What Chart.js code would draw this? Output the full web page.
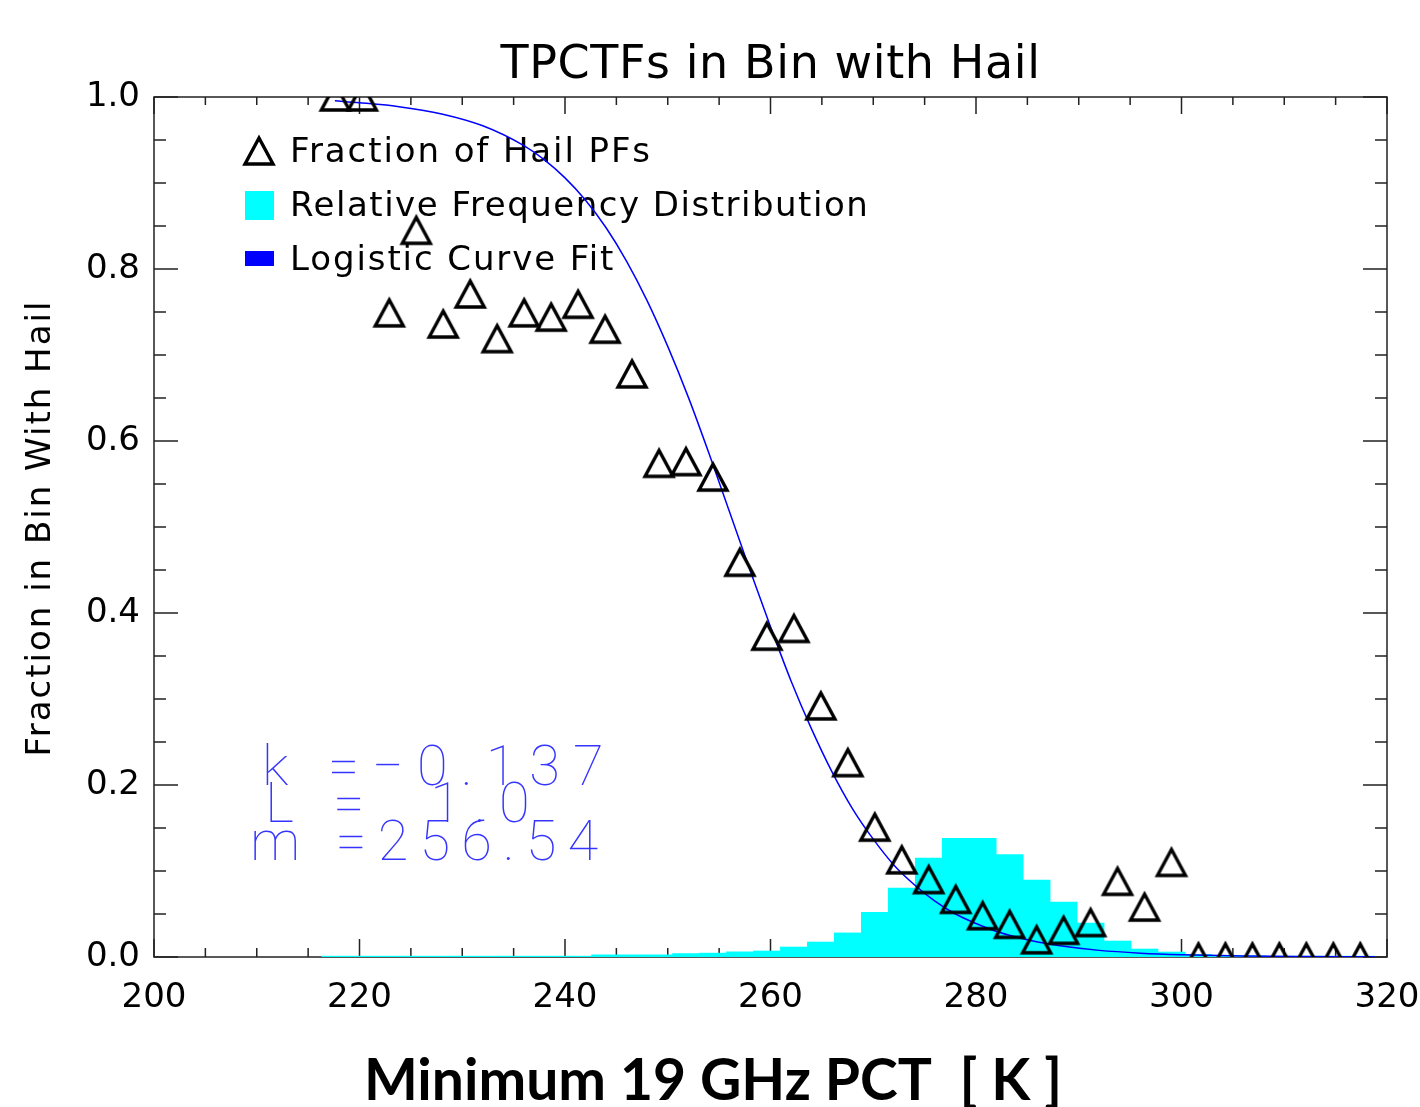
<!DOCTYPE html>
<html lang="en">
<head>
  <meta charset="UTF-8">
  <title>TPCTFs in Bin with Hail</title>
  <script src="https://cdn.jsdelivr.net/npm/chart.js"></script>
  <style>
    body {
      margin: 0;
      background: #fff;
    }
    #wrap {
      width: 1420px;
      height: 1107px;
    }
  </style>
</head>
<body>
  <div id="wrap">
    <canvas id="hailChart" width="1420" height="1107"></canvas>
  </div>
  <script>
    // Bin centres of the 19 GHz PCT bins [K]
    const binCenters = [
      217.65, 220.275, 222.9, 225.525, 228.15, 230.775, 233.4, 236.025, 238.65, 241.275,
      243.9, 246.525, 249.15, 251.775, 254.4, 257.025, 259.65, 262.275, 264.9, 267.525,
      270.15, 272.775, 275.4, 278.025, 280.65, 283.275, 285.9, 288.525, 291.15, 293.775,
      296.4, 299.025, 301.65, 304.275, 306.9, 309.525, 312.15, 314.775, 317.4
    ];
    // Fraction of precipitation features with hail in each bin (triangles)
    const hailFraction = [
      1.0, 1.0, 0.749, 0.845, 0.736, 0.771, 0.719, 0.749, 0.744, 0.759,
      0.730, 0.678, 0.574, 0.576, 0.558, 0.459, 0.373, 0.382, 0.292, 0.226,
      0.151, 0.113, 0.090, 0.067, 0.048, 0.038, 0.020, 0.031, 0.040, 0.088,
      0.058, 0.110, 0, 0, 0, 0, 0, 0, 0
    ];
    // Relative frequency distribution (cyan histogram)
    const relFrequency = [
      0.001, 0.001, 0.001, 0.001, 0.001, 0.001, 0.001, 0.001, 0.001, 0.001,
      0.0025, 0.0025, 0.0025, 0.004, 0.0045, 0.006, 0.007, 0.0116, 0.0174, 0.028,
      0.052, 0.080, 0.115, 0.138, 0.138, 0.119, 0.0895, 0.064, 0.0395, 0.0186,
      0.0093, 0.0058, 0.003, 0.002, 0.0015, 0.001, 0.001, 0.001, 0.001
    ];
    // Logistic curve fit
    const fitTemps = [
      217.6, 220, 224, 228, 232, 236, 238, 240, 242, 244, 246, 248, 250, 252, 254, 256,
      258, 260, 262, 264, 266, 268, 270, 272, 274, 276, 278, 280, 282, 284, 286, 288,
      292, 296, 300, 306, 312, 318.8
    ];
    const fitValues = [
      0.9955, 0.9933, 0.9885, 0.9803, 0.9665, 0.9434, 0.9269, 0.906, 0.880, 0.848, 0.809, 0.763,
      0.710, 0.651, 0.586, 0.518, 0.450, 0.384, 0.321, 0.265, 0.215, 0.172, 0.137, 0.107,
      0.084, 0.065, 0.050, 0.039, 0.0297, 0.023, 0.0174, 0.0133, 0.0077, 0.0045, 0.0026,
      0.0011, 0.0005, 0.0002
    ];
    const fitParams = ['k =\u22120.137', 'L =  1.0', 'm =256.54'];

    const xRange = [200, 320];
    const xMajorStep = 20;
    const xMinorStep = 5;
    const yRange = [0, 1];
    const yMajorStep = 0.2;
    const yMinorStep = 0.05;

    const chartTitle = 'TPCTFs in Bin with Hail';
    const yTitle = 'Fraction in Bin With Hail';
    const xTitle = 'Minimum 19 GHz PCT  [ K ]';

    // open triangle marker, centred on its bounding box (like the IDL symbol)
    function makeTriangle(w, h, lw) {
      const c = document.createElement('canvas');
      c.width = w + 12;
      c.height = h + 12;
      const g = c.getContext('2d');
      const x0 = (c.width - w) / 2;
      const y0 = (c.height - h) / 2;
      g.strokeStyle = '#000';
      g.lineWidth = lw;
      g.lineJoin = 'miter';
      g.beginPath();
      g.moveTo(x0 + w / 2, y0);
      g.lineTo(x0 + w, y0 + h);
      g.lineTo(x0, y0 + h);
      g.closePath();
      g.stroke();
      return c;
    }
    const triangle = makeTriangle(28, 26, 3.4);

    function drawText(ctx, str, x, y, font, color, spacing, align) {
      ctx.font = font;
      ctx.fillStyle = color;
      ctx.letterSpacing = spacing;
      ctx.textAlign = align;
      ctx.textBaseline = 'alphabetic';
      ctx.fillText(str, x, y);
      ctx.letterSpacing = '0px';
    }

    const decorations = {
      id: 'decorations',
      beforeDatasetsDraw(chart) {
        const { ctx, chartArea: a, scales: { x, y } } = chart;
        ctx.save();
        // frame with inward ticks on all four sides
        ctx.strokeStyle = '#222';
        ctx.lineWidth = 1.5;
        ctx.strokeRect(a.left, a.top, a.right - a.left, a.bottom - a.top);
        ctx.beginPath();
        for (let v = xRange[0]; v <= xRange[1]; v += xMinorStep) {
          const px = x.getPixelForValue(v);
          const major = v % xMajorStep === 0;
          ctx.moveTo(px, a.bottom);
          ctx.lineTo(px, a.bottom - (major ? 18 : 9));
          ctx.moveTo(px, a.top);
          ctx.lineTo(px, a.top + (major ? 17 : 8));
        }
        const nY = Math.round((yRange[1] - yRange[0]) / yMinorStep);
        const perMajor = Math.round(yMajorStep / yMinorStep);
        for (let i = 0; i <= nY; i++) {
          const py = y.getPixelForValue(yRange[0] + i * yMinorStep);
          const len = i % perMajor === 0 ? 24 : 12;
          ctx.moveTo(a.left, py);
          ctx.lineTo(a.left + len, py);
          ctx.moveTo(a.right, py);
          ctx.lineTo(a.right - len, py);
        }
        ctx.stroke();

        // legend inside the plot
        const ds = chart.data.datasets;
        const legendFont = '34px "DejaVu Sans"';
        ctx.drawImage(triangle, 259 - triangle.width / 2, 151 - triangle.height / 2);
        drawText(ctx, ds[0].label, 290, 162, legendFont, '#000', '1.9px', 'left');
        ctx.fillStyle = ds[2].backgroundColor;
        ctx.fillRect(245, 191, 29, 29);
        drawText(ctx, ds[2].label, 290, 216, legendFont, '#000', '1.5px', 'left');
        ctx.fillStyle = ds[1].borderColor;
        ctx.fillRect(245, 251, 29, 15);
        drawText(ctx, ds[1].label, 290, 270, legendFont, '#000', '1.9px', 'left');
        ctx.restore();
      },
      afterDraw(chart) {
        const { ctx, chartArea: a } = chart;
        ctx.save();
        drawText(ctx, chartTitle, (a.left + a.right) / 2, 78, '46px "DejaVu Sans"', '#000', '0.6px', 'center');

        ctx.save();
        ctx.translate(50, 528);
        ctx.rotate(-Math.PI / 2);
        drawText(ctx, yTitle, 0, 0, '34px "DejaVu Sans"', '#000', '2px', 'center');
        ctx.restore();

        // fit parameters
        const pFont = '100 56px Roboto, "DejaVu Sans"';
        drawText(ctx, fitParams[0], 262, 785, pFont, '#3535ff', '13px', 'left');
        drawText(ctx, fitParams[1], 265, 822, pFont, '#3535ff', '13px', 'left');
        drawText(ctx, fitParams[2], 250, 860, pFont, '#3535ff', '11px', 'left');

        // bold axis title
        ctx.font = 'bold 60px Lato';
        const w = ctx.measureText(xTitle).width;
        const size = Math.round(60 * 703 / w);
        drawText(ctx, xTitle, 713, 1100, 'bold ' + size + 'px Lato', '#000', '0px', 'center');
        ctx.restore();
      }
    };

    const ctx = document.getElementById('hailChart').getContext('2d');
    new Chart(ctx, {
      type: 'scatter',
      data: {
        datasets: [
          {
            label: 'Fraction of Hail PFs',
            data: binCenters.map((t, i) => ({ x: t, y: hailFraction[i] })),
            pointStyle: triangle,
            pointRadius: 15,
            clip: 0,
            order: 0
          },
          {
            type: 'line',
            label: 'Logistic Curve Fit',
            data: fitTemps.map((t, i) => ({ x: t, y: fitValues[i] })),
            borderColor: '#0000ff',
            borderWidth: 1.5,
            pointRadius: 0,
            fill: false,
            cubicInterpolationMode: 'monotone',
            order: 1
          },
          {
            type: 'bar',
            label: 'Relative Frequency Distribution',
            data: binCenters.map((t, i) => ({ x: t, y: relFrequency[i] })),
            backgroundColor: '#00ffff',
            borderWidth: 0,
            barPercentage: 1,
            categoryPercentage: 1,
            order: 2
          }
        ]
      },
      options: {
        responsive: false,
        devicePixelRatio: 1,
        animation: false,
        layout: {
          padding: { top: 97, right: 33, bottom: 0, left: 0 }
        },
        plugins: {
          legend: { display: false },
          tooltip: { enabled: false }
        },
        scales: {
          x: {
            type: 'linear',
            min: xRange[0],
            max: xRange[1],
            offset: false,
            grid: { display: false, drawTicks: false, offset: false },
            border: { display: false },
            ticks: {
              stepSize: xMajorStep,
              padding: 21,
              maxRotation: 0,
              color: '#000',
              font: { family: 'DejaVu Sans', size: 34 }
            },
            afterFit(scale) {
              scale.height = 150;
              scale.paddingLeft = 0;
              scale.paddingRight = 0;
            }
          },
          y: {
            min: yRange[0],
            max: yRange[1],
            grid: { display: false, drawTicks: false },
            border: { display: false },
            ticks: {
              stepSize: yMajorStep,
              padding: 14,
              color: '#000',
              font: { family: 'DejaVu Sans', size: 34 },
              callback: v => v.toFixed(1)
            },
            afterFit(scale) {
              scale.width = 154;
              scale.paddingTop = 0;
              scale.paddingBottom = 0;
            }
          }
        }
      },
      plugins: [decorations]
    });
  </script>
</body>
</html>
